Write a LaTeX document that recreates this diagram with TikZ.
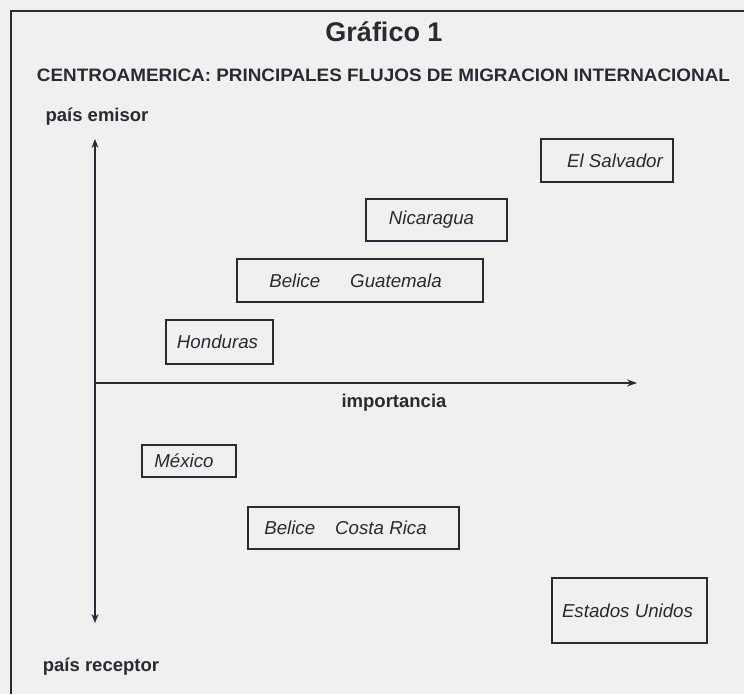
\documentclass[tikz,border=0pt]{standalone}
\usepackage{fontspec}
\usepackage{graphicx}
\setmainfont{Liberation Sans}
\usetikzlibrary{arrows.meta}
\definecolor{paper}{HTML}{F1F0F0}
\definecolor{ink}{HTML}{2B2A33}
\tikzset{
  frameline/.style={draw=ink, line width=1.3pt},
  axisline/.style={draw=ink, line width=1.4pt},
  countrybox/.style={draw=ink, line width=1.8pt, inner sep=0pt},
  thickbox/.style={countrybox, line width=2.8pt},
  boxtext/.style={text=ink, font=\fontsize{18.7}{22}\selectfont\itshape, inner sep=0pt},
  axislabel/.style={text=ink, font=\fontsize{18.5}{22}\selectfont\bfseries, inner sep=0pt},
}
\begin{document}
\begin{tikzpicture}[x=1pt, y=-1pt]
\fill[paper] (0,0) rectangle (744,694);
\useasboundingbox (0,0) rectangle (744,694);
% outer frame
\coordinate (fbl) at (11,694);
\coordinate (ftl) at (11,11);
\coordinate (ftr) at (744,11);
\draw[frameline] (fbl) -- (ftl) -- (ftr);
% titles
\node[text=ink, font=\fontsize{27}{30}\selectfont\bfseries, inner sep=0pt] (title) at (384,32) {Gráfico 1};
\node[text=ink, font=\fontsize{18}{20}\selectfont\bfseries, inner sep=0pt] (subtitle) at (383.5,75.5)
  {\resizebox{693pt}{\height}{CENTROAMERICA: PRINCIPALES FLUJOS DE MIGRACION INTERNACIONAL}};
% axes
\coordinate (o) at (95,383);
\coordinate (ytop) at (95,139);
\coordinate (ybot) at (95,623);
\coordinate (xright) at (637,383);
\draw[axisline, {Stealth[length=9pt,width=7pt]}-{Stealth[length=9pt,width=7pt]}] (ybot) -- (ytop);
\draw[axisline, -{Stealth[length=10pt,width=7pt]}] (o) -- (xright);
\node[axislabel] (emisor) at (97,117) {país emisor};
\node[axislabel] (receptor) at (101,667) {país receptor};
\node[axislabel] (importancia) at (394,403) {importancia};
% boxes
\node[thickbox, minimum width=132pt, minimum height=43pt] (elsal) at (607,160.5) {};
\node[boxtext] at ([xshift=8pt]elsal.center) {El Salvador};
\node[countrybox, minimum width=141pt, minimum height=42pt] (nica) at (436.5,220) {};
\node[boxtext] at ([xshift=-5pt]nica.center) {Nicaragua};
\node[countrybox, minimum width=246pt, minimum height=43pt] (belgua) at (360,280.5) {};
\node[boxtext, anchor=west] at ([xshift=33pt]belgua.west) {Belice\hspace{30pt}Guatemala};
\node[countrybox, minimum width=107pt, minimum height=44pt] (hond) at (219.5,342) {};
\node[boxtext] at ([xshift=-2pt]hond.center) {Honduras};
\node[countrybox, minimum width=94pt, minimum height=32pt] (mex) at (189,461) {};
\node[boxtext] at ([xshift=-5pt]mex.center) {México};
\node[countrybox, minimum width=211pt, minimum height=42pt] (belcr) at (353.5,528) {};
\node[boxtext, anchor=west] at ([xshift=17pt]belcr.west) {Belice\hspace{20pt}Costa Rica};
\node[thickbox, minimum width=155pt, minimum height=65pt] (eeuu) at (629.5,610.5) {};
\node[boxtext] at ([xshift=-2pt]eeuu.center) {Estados Unidos};
\end{tikzpicture}
\end{document}
